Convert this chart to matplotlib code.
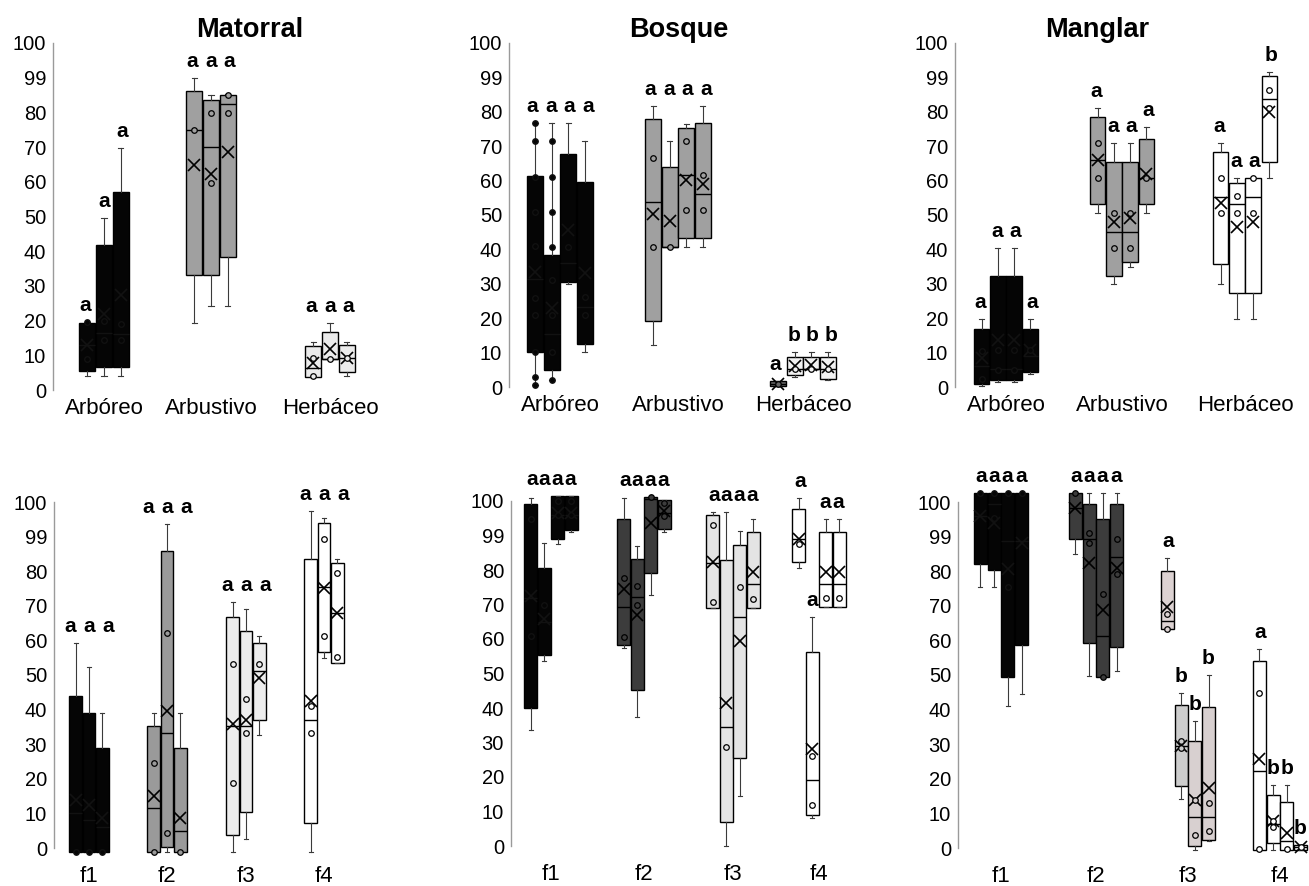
import numpy as np
import matplotlib
matplotlib.use('Agg')
import matplotlib.pyplot as plt

plt.rcParams['font.family'] = ['Liberation Sans', 'DejaVu Sans']

# ---- datos ----
estratos = ['Arbóreo', 'Arbustivo', 'Herbáceo']
fases = ['f1', 'f2', 'f3', 'f4']
ytick_vals = [0, 10, 20, 30, 40, 50, 60, 70, 80, 90, 100]
ytick_txt = ['0', '10', '20', '30', '40', '50', '60', '70', '80', '99', '100']

# Matorral
mat_lo = [[4, 4, 4], [19.4, 24.3, 24.3], [3.7, 8.9, 4]]
mat_q1 = [[5.5, 6.7, 6.7], [33.2, 33.2, 38.2], [3.7, 8.9, 5.3]]
mat_med = [[13, 16.3, 16], [74.8, 69.9, 82.4], [6.4, 8.9, 9.1]]
mat_q3 = [[19.2, 41.8, 57.2], [86.3, 83.7, 85.1], [12.8, 16.6, 13]]
mat_hi = [[19.7, 49.5, 69.7], [89.9, 84.9, 85.3], [13.9, 19.4, 13.9]]
mat_mean = [[13, 22, 27.4], [64.7, 62.3, 68.5], [7.9, 11.7, 9.1]]
mat_pts = [[[9, 19.5], [20, 14.4], [19, 14.4]],
           [[74.8], [79.8, 59.6], [84.9, 79.8]],
           [[9.1, 4], [8.9], [9.1]]]
mat_letras = [['a', 'a', 'a'], ['a', 'a', 'a'], ['a', 'a', 'a']]
mat_alineado = [False, True, True]

# Bosque
bos_lo = [[0.5, 1.9, 30, 10.2], [12.1, 40.8, 40.8, 40.8], [0.3, 2.9, 5.3, 1.9]]
bos_q1 = [[10.2, 5, 30.6, 12.6], [19.2, 40.8, 43.4, 43.4], [0.3, 3.4, 5.3, 2.4]]
bos_med = [[31.5, 15.5, 36, 23.3], [53.7, 40.8, 61.6, 56], [1, 5.3, 5.3, 5.3]]
bos_q3 = [[61.2, 38.3, 67.8, 59.7], [78, 63.9, 75.2, 76.7], [1.8, 8.7, 8.7, 8.7]]
bos_hi = [[76.7, 76.7, 76.7, 71.4], [81.6, 71.4, 76.5, 81.6], [1.8, 10.2, 10.2, 10.2]]
bos_mean = [[33.5, 23, 45.6, 33], [50.2, 48.3, 60.2, 59], [1, 6, 6.3, 5.8]]
bos_pts = [[[76.7, 71.6, 61, 51, 41, 26, 21, 10.2, 2.9, 0.5],
            [71.6, 61, 51, 40.6, 31, 21, 10.2, 1.9], [40.6], [26.2, 21]],
           [[66.5, 40.8], [40.8], [71.6, 51.5], [61.6, 51.5]],
           [[1], [5.3], [5.3], [5.3]]]
bos_letras = [['a', 'a', 'a', 'a'], ['a', 'a', 'a', 'a'], ['a', 'b', 'b', 'b']]
bos_alineado = [True, True, False]

# Manglar
man_lo = [[0.2, 1.5, 1.5, 3.7], [50.5, 29.9, 35, 50.5], [29.9, 19.9, 19.9, 60.7]]
man_q1 = [[0.8, 2.1, 2.1, 4.4], [53.2, 32.2, 36.4, 53.2], [35.9, 27.2, 27.2, 65.5]]
man_med = [[6, 5.3, 5.3, 9], [66, 45.1, 45.1, 60.7], [55.3, 53.2, 55.3, 83.7]]
man_q3 = [[17, 32.3, 32.3, 17], [78.4, 65.5, 65.5, 72], [68.2, 59.2, 60.7, 90.3]]
man_hi = [[19.9, 40.3, 40.3, 19.9], [81, 70.9, 70.9, 75.7], [70.9, 60.7, 60.7, 91.5]]
man_mean = [[8.3, 13.6, 13.6, 10.7], [66, 48, 49, 61.9], [53.4, 46.6, 48, 79.8]]
man_pts = [[[10.5, 2.4], [10.7, 4.9], [10.7, 4.9], [10.7]],
           [[70.9, 60.7], [50.5, 40.3], [50.5, 40.3], [60.7]],
           [[60.7, 50.5], [55.5, 50.5], [60.7, 50.5], [86.4, 81]]]
man_letras = [['a', 'a', 'a', 'a'], ['a', 'a', 'a', 'a'], ['a', 'a', 'a', 'b']]
man_alineado = [False, False, False]

# Matorral por fase
mf_lo = [[-1.2, -1.2, -1.2], [-1.2, -1.2, -1.2], [-1.2, 2.7, 32.8], [-1.2, 55, 53.5]]
mf_q1 = [[-1.2, -1.2, -1.2], [-1.2, 0.2, -1.2], [3.7, 10.3, 36.9], [7.2, 56.6, 53.5]]
mf_med = [[10, 8, 6], [11.6, 33.1, 5], [35.2, 35.2, 51.1], [37.1, 75.4, 67.8]]
mf_q3 = [[43.9, 38.9, 28.9], [35.4, 85.8, 28.9], [66.8, 62.7, 59.3], [83.4, 94, 82.3]]
mf_hi = [[59.3, 52.4, 38.9], [38.9, 93.7, 38.9], [71.2, 69.2, 61.2], [97.4, 95.5, 83.4]]
mf_mean = [[14, 12.5, 8.7], [15.1, 39.7, 8.7], [35.7, 37.1, 49.2], [42.4, 75.2, 67.8]]
mf_pts = [[[-1.2], [-1.2], [-1.2]],
          [[24.6, -1.2], [62.2, 4.3], [-1.2]],
          [[53.2, 18.8], [43.1, 33.1], [53.2]],
          [[41, 33.1], [89.4, 61.2], [79.4, 55.2]]]
mf_letras = [['a', 'a', 'a']] * 4
mf_alineado = [True, True, True, True]

# Bosque por fase
bf_lo = [[33.6, 53.6, 87.4, 91], [57.5, 37.5, 72.8, 91], [69.1, 0, 14.5, 69.1], [80.7, 8.2, 69.3, 69.3]]
bf_q1 = [[40.1, 55.5, 89.1, 91.6], [58.2, 45.2, 79.2, 91.8], [69.1, 7, 25.6, 69.1], [82.4, 8.9, 69.3, 69.3]]
bf_med = [[72, 65, 96, 96], [69.3, 72.1, 100.5, 96.5], [82, 34.6, 66.5, 76], [89, 19, 76, 76]]
bf_q3 = [[99, 80.7, 101.4, 101.4], [94.9, 83.3, 101.2, 100.3], [95.8, 82.9, 87.2, 91], [97.8, 56.2, 91, 91]]
bf_hi = [[101, 87.9, 101.4, 101.4], [101, 87, 101.2, 100.3], [96.8, 96.8, 91.3, 94.7], [101, 66.5, 94.7, 94.7]]
bf_mean = [[72.5, 65.7, 96.6, 96.6], [74.4, 67.1, 93.7, 97.1], [82.4, 41.5, 59.4, 79.5], [88.9, 28, 79.5, 79.5]]
bf_pts = [[[94.7, 60.9], [70], [96, 100], [96, 100]],
          [[77.8, 60.6], [75.5, 69.8], [101.2], [99.5, 95.7]],
          [[93, 70.7], [28.8], [75], [71.7]],
          [[87.4], [26.1, 12], [72], [72]]]
bf_letras = [['a', 'a', 'a', 'a']] * 4
bf_alineado = [True, True, True, False]

# Manglar por fase
gf_lo = [[75.5, 75.5, 41, 44.4], [84.9, 49.7, 49.4, 51.1], [63.2, 14.2, -0.5, 1.9], [-0.5, -0.5, -0.5, -0.5]]
gf_q1 = [[82, 80.3, 49.4, 58.8], [89.4, 59.3, 49.4, 58.1], [63.2, 17.8, 0.5, 2.4], [-0.5, 1.4, -0.5, -0.5]]
gf_med = [[96, 99.3, 88.7, 88.7], [98.4, 89.2, 61.4, 84.2], [65.6, 29.4, 8.9, 8.9], [22.2, 6.8, 2, 0.3]]
gf_q3 = [[102.7, 102.7, 102.7, 102.7], [102.7, 99.3, 95.2, 99.3], [80, 41.2, 31, 40.7], [54, 15.4, 13.3, 1]]
gf_hi = [[102.7, 102.7, 102.7, 102.7], [102.7, 102.7, 102.7, 102.7], [83.9, 44.8, 36.8, 50.1], [57.4, 18.3, 18.3, 1]]
gf_mean = [[96, 94, 80.5, 88.2], [98.4, 82.4, 68.8, 81], [69.6, 29.4, 13.8, 17.4], [25.6, 7.7, 4.3, 0.3]]
gf_pts = [[[102.7], [95.5, 102.7], [75.5, 102.7], [102.7]],
          [[102.7], [91.1, 88.2], [73.3, 49.4], [89.4, 79.1]],
          [[67.5, 63.4], [30.9, 28.9], [13.8, 3.9], [13, 4.8]],
          [[44.8, -0.3], [7.7, 6], [-0.3], [0.3]]]
gf_letras = [['a', 'a', 'a', 'a'], ['a', 'a', 'a', 'a'], ['a', 'b', 'b', 'b'], ['a', 'b', 'b', 'b']]
gf_alineado = [True, True, False, False]

W, H = 1309, 886
fig = plt.figure(figsize=(W / 100, H / 100), dpi=100)

NEGRO = '#050505'


def panel(ejex, y0, y100, centros, bw, lsp, cats, lo, q1, med, q3, hi, mean, pts,
          letras, alineado, rellenos, pad, titulo=None, tit_x=None):
    ancho = 400
    ax = fig.add_axes([ejex / W, (H - y0) / H, ancho / W, (y0 - y100) / H])
    for g in range(len(cats)):
        n = len(q1[g])
        for i in range(n):
            x = centros[g] + (i - (n - 1) / 2) * bw
            fill = rellenos[g] if isinstance(rellenos[g], str) else rellenos[g][i]
            tinta = '#121212' if fill == NEGRO else 'black'
            st = [dict(whislo=lo[g][i], q1=q1[g][i], med=med[g][i], q3=q3[g][i],
                       whishi=hi[g][i], mean=mean[g][i], fliers=[])]
            art = ax.bxp(st, positions=[x], widths=bw * 0.94, capwidths=bw * 0.3,
                         patch_artist=True, showmeans=True, manage_ticks=False,
                         boxprops=dict(facecolor=fill, edgecolor='black', linewidth=1.0),
                         whiskerprops=dict(color='#3a3a3a', linewidth=0.8),
                         capprops=dict(color='#3a3a3a', linewidth=0.8),
                         medianprops=dict(color=tinta, linewidth=1.0),
                         meanprops=dict(marker='x', markeredgecolor=tinta,
                                        markersize=8, markeredgewidth=1.2))
            for lst in art.values():
                for a in lst:
                    a.set_clip_on(False)
            p = pts[g][i]
            ax.plot([x] * len(p), p, 'o', mfc=fill, mec=tinta, ms=4, mew=0.9,
                    clip_on=False, zorder=4)
            tope = max(hi[g]) if alineado[g] else hi[g][i]
            xl = centros[g] + (i - (n - 1) / 2) * lsp
            ax.annotate(letras[g][i], (xl, tope), xytext=(0, 11), textcoords='offset pixels',
                        ha='center', va='baseline', fontsize=15, fontweight='bold',
                        annotation_clip=False)
    ax.set_xlim(0, ancho)
    ax.set_ylim(0, 100)
    ax.set_yticks(ytick_vals)
    ax.set_yticklabels(ytick_txt, fontsize=14.5)
    ax.set_xticks(centros)
    ax.set_xticklabels(cats, fontsize=16)
    ax.tick_params(axis='both', length=0)
    ax.tick_params(axis='y', pad=5)
    ax.tick_params(axis='x', pad=pad)
    for s in ['top', 'right', 'bottom']:
        ax.spines[s].set_visible(False)
    ax.spines['left'].set_color('#9a9a9a')
    ax.spines['left'].set_linewidth(1.0)
    ax.patch.set_alpha(0)
    if titulo:
        fig.text(tit_x / W, 1 - 30 / H, titulo, ha='center', va='center',
                 fontsize=19.5, fontweight='bold')
    return ax


panel(53, 390, 43, [51, 158, 277], 16.7, 18.5, estratos, mat_lo, mat_q1, mat_med, mat_q3,
      mat_hi, mat_mean, mat_pts, mat_letras, mat_alineado,
      [NEGRO, '#a0a0a0', '#ebebeb'], 6, 'Matorral', 250)
panel(509, 387, 43, [51, 169, 294], 16.5, 18.5, estratos, bos_lo, bos_q1, bos_med, bos_q3,
      bos_hi, bos_mean, bos_pts, bos_letras, bos_alineado,
      [NEGRO, '#a0a0a0', ['#666666', '#f2f2f2', '#f2f2f2', '#f2f2f2']], 6, 'Bosque', 679)
panel(955, 387, 43, [51, 167, 290], 16.3, 17.5, estratos, man_lo, man_q1, man_med, man_q3,
      man_hi, man_mean, man_pts, man_letras, man_alineado,
      [NEGRO, '#a0a0a0', '#ffffff'], 6, 'Manglar', 1097)
panel(54, 848, 502, [35, 113, 192, 270], 13.3, 19, fases, mf_lo, mf_q1, mf_med, mf_q3,
      mf_hi, mf_mean, mf_pts, mf_letras, mf_alineado,
      [NEGRO, '#9a9a9a', '#ededed', '#ffffff'], 13)
panel(511, 846, 501, [40, 133, 222, 308], 13.5, 12.8, fases, bf_lo, bf_q1, bf_med, bf_q3,
      bf_hi, bf_mean, bf_pts, bf_letras, bf_alineado,
      [NEGRO, '#3c3c3c', '#e4e4e4', '#ffffff'], 13)
panel(958, 848, 502, [43, 138, 230, 322], 13.8, 13.3, fases, gf_lo, gf_q1, gf_med, gf_q3,
      gf_hi, gf_mean, gf_pts, gf_letras, gf_alineado,
      [NEGRO, '#3c3c3c', ['#dcd2d2', '#cdcdcd', '#d8d0d0', '#d8d0d0'], '#ffffff'], 13)

fig.savefig('out.png', dpi=100)
